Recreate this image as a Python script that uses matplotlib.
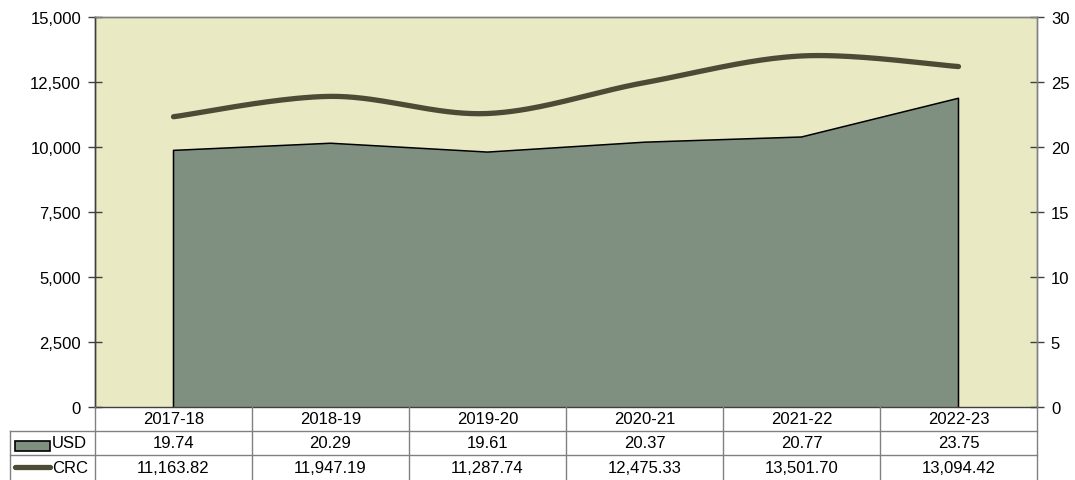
import numpy as np
import matplotlib
matplotlib.use("Agg")
import matplotlib.pyplot as plt
from matplotlib.patches import Rectangle
from matplotlib.lines import Line2D

categories = ["2017-18", "2018-19", "2019-20", "2020-21", "2021-22", "2022-23"]
usd = [19.74, 20.29, 19.61, 20.37, 20.77, 23.75]
crc = [11163.82, 11947.19, 11287.74, 12475.33, 13501.70, 13094.42]
usd_labels = ["19.74", "20.29", "19.61", "20.37", "20.77", "23.75"]
crc_labels = ["11,163.82", "11,947.19", "11,287.74", "12,475.33", "13,501.70", "13,094.42"]
left_ticks = [0, 2500, 5000, 7500, 10000, 12500, 15000]
right_ticks = [0, 5, 10, 15, 20, 25, 30]

plt.rcParams['font.family'] = ['Liberation Sans', 'DejaVu Sans']
FS = 12
BG = "#E9E9C4"
AREA = "#809080"
LINE = "#4D4B35"
GRID = "#808080"

W, H = 1075, 481
fig = plt.figure(figsize=(W / 100, H / 100), dpi=100)
L, R, T, B = 95, 1037, 18, 408
ax2 = fig.add_axes([L / W, 1 - B / H, (R - L) / W, (B - T) / H])
ax = ax2.twinx()
ax.set_zorder(ax2.get_zorder() + 1)
ax.patch.set_visible(False)
ax2.set_facecolor(BG)

x = np.arange(len(categories))

# area on USD scale
ax2.fill_between(x, usd, 0, facecolor=AREA, edgecolor="none", zorder=2)
ax2.plot(np.r_[x[0], x, x[-1]], np.r_[0, usd, 0], color="black", lw=1.1, zorder=3)


def smooth(xs, ys, n=40):
    xs = np.asarray(xs, float); ys = np.asarray(ys, float)
    px = np.r_[xs[0], xs, xs[-1]]; py = np.r_[ys[0], ys, ys[-1]]
    ox, oy = [], []
    for i in range(1, len(px) - 2):
        p0 = np.array([px[i], py[i]]); p3 = np.array([px[i + 1], py[i + 1]])
        c1 = p0 + (np.array([px[i + 1], py[i + 1]]) - np.array([px[i - 1], py[i - 1]])) / 6
        c2 = p3 - (np.array([px[i + 2], py[i + 2]]) - np.array([px[i], py[i]])) / 6
        t = np.linspace(0, 1, n)[:, None]
        pts = (1 - t) ** 3 * p0 + 3 * (1 - t) ** 2 * t * c1 + 3 * (1 - t) * t ** 2 * c2 + t ** 3 * p3
        ox.extend(pts[:, 0]); oy.extend(pts[:, 1])
    return np.array(ox), np.array(oy)


sx, sy = smooth(x, crc)
ax.plot(sx, sy, color=LINE, lw=3.8, solid_capstyle="round", zorder=5)

ax.yaxis.tick_left()
ax.yaxis.set_label_position("left")
ax2.yaxis.tick_right()

ax.set_ylim(0, 15000)
ax2.set_ylim(0, 30)
ax.set_xlim(-0.5, len(categories) - 0.5)
ax2.set_xlim(-0.5, len(categories) - 0.5)
ax.set_yticks(left_ticks)
ax.set_yticklabels([f"{v:,}" for v in left_ticks])
ax2.set_yticks(right_ticks)
ax2.set_yticklabels([str(v) for v in right_ticks])
ax.set_xticks([]); ax2.set_xticks([])
for a in (ax, ax2):
    a.tick_params(axis="y", direction="inout", length=10, width=1, color="#404040",
                  labelsize=FS, pad=5)
    for s in a.spines.values():
        s.set_color(GRID)
        s.set_linewidth(1)
ax.spines["left"].set_color("#404040")
ax2.spines["left"].set_color("#404040")
ax.spines["bottom"].set_visible(False)
ax2.spines["bottom"].set_visible(False)

# data table (figure pixel coordinates)
def fx(px): return px / W
def fy(py): return 1 - py / H

col_w = (R - L) / len(categories)
tl = dict(color=GRID, lw=1, transform=fig.transFigure)
fig.add_artist(Line2D([fx(L), fx(R)], [fy(408), fy(408)], color="#404040", lw=1, transform=fig.transFigure))
for yy in (432, 456):
    fig.add_artist(Line2D([fx(10), fx(R)], [fy(yy), fy(yy)], **tl))
for i in range(len(categories) + 1):
    xx = L + i * col_w
    fig.add_artist(Line2D([fx(xx), fx(xx)], [fy(408), fy(481)], **tl))
fig.add_artist(Line2D([fx(10), fx(10)], [fy(432), fy(481)], **tl))

for i, c in enumerate(categories):
    cx = L + (i + 0.5) * col_w
    fig.text(fx(cx), fy(420), c, ha="center", va="center", fontsize=FS)
    fig.text(fx(cx), fy(444), usd_labels[i], ha="center", va="center", fontsize=FS)
    fig.text(fx(cx), fy(468.5), crc_labels[i], ha="center", va="center", fontsize=FS)

# legend keys
fig.add_artist(Rectangle((fx(15), fy(452)), (50 - 15) / W, 10 / H, facecolor=AREA,
                         edgecolor="black", lw=1.2, transform=fig.transFigure))
fig.text(fx(52), fy(444), "USD", ha="left", va="center", fontsize=FS)
fig.add_artist(Line2D([fx(15), fx(50)], [fy(468), fy(468)], color=LINE, lw=3.8,
                      solid_capstyle="round", transform=fig.transFigure))
fig.text(fx(52), fy(468.5), "CRC", ha="left", va="center", fontsize=FS)

fig.savefig("out.png", dpi=100, facecolor="white")
